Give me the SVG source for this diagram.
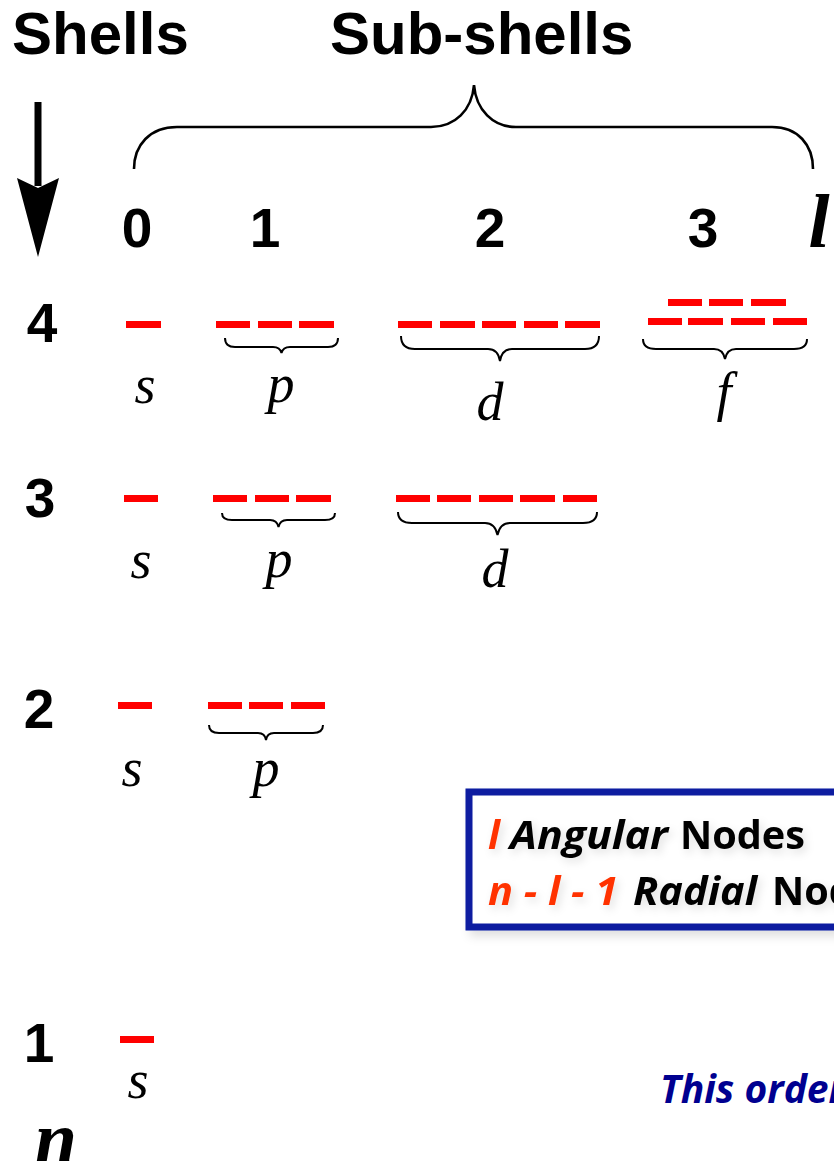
<svg xmlns="http://www.w3.org/2000/svg" width="834" height="1161" viewBox="0 0 834 1161">
<style>
.hdr{font-family:"Liberation Sans",Arial,sans-serif;font-weight:bold;font-size:60px;fill:#000}
.num{font-family:"Liberation Sans",Arial,sans-serif;font-weight:bold;font-size:55px;fill:#000;text-anchor:middle}
.var{font-family:"Liberation Serif","Times New Roman",serif;font-weight:bold;font-style:italic;font-size:76px;fill:#000;text-anchor:middle}
.lab{font-family:"Liberation Serif","Times New Roman",serif;font-style:italic;font-size:54px;fill:#000;text-anchor:middle}
.orb{fill:#FF0000}
.brace{fill:none;stroke:#000;stroke-width:2}
.big{fill:none;stroke:#000;stroke-width:2.6}
.bx{font-family:"Open Sans","Noto Sans",sans-serif;font-weight:bold;font-size:40px}
.red{fill:#FF3300;font-style:italic}
.it{font-style:italic;fill:#000}
.bk{fill:#000}
.note{font-family:"Open Sans","Noto Sans",sans-serif;font-weight:bold;font-style:italic;font-size:39px;fill:#000090}
</style>
<defs>
<filter id="sh" x="-10%" y="-20%" width="130%" height="150%">
<feGaussianBlur in="SourceAlpha" stdDeviation="5"/>
<feOffset dx="4" dy="6" result="b"/>
<feFlood flood-color="#000" flood-opacity="0.12"/>
<feComposite in2="b" operator="in"/>
<feMerge><feMergeNode/><feMergeNode in="SourceGraphic"/></feMerge>
</filter>
<filter id="tsh" x="-10%" y="-30%" width="120%" height="160%">
<feGaussianBlur in="SourceAlpha" stdDeviation="4"/>
<feOffset dx="3" dy="4" result="b"/>
<feFlood flood-color="#000" flood-opacity="0.12"/>
<feComposite in2="b" operator="in"/>
<feMerge><feMergeNode/><feMergeNode in="SourceGraphic"/></feMerge>
</filter>
</defs>

<g id="headers">
<text class="hdr" x="12" y="54">Shells</text>
<text class="hdr" x="330" y="54">Sub-shells</text>
</g>

<g id="shell-arrow">
<line x1="38" y1="102" x2="38" y2="186" stroke="#000" stroke-width="7"/>
<polygon points="17,178 38,188 59,178 38,257" fill="#000"/>
</g>

<g id="subshell-brace">
<path class="big" d="M134 169 C134 145 150 127 177 127 L431 127 C455 127 472 110 474 85 C476 110 493 127 516 127 L772 127 C798 127 813 145 813 169"/>
</g>

<g id="l-values">
<text class="num" x="137" y="247">0</text>
<text class="num" x="265" y="247">1</text>
<text class="num" x="490" y="247">2</text>
<text class="num" x="703" y="247">3</text>
<text class="var" x="819" y="247">l</text>
</g>

<g id="n-values">
<text class="num" x="42" y="342">4</text>
<text class="num" x="40" y="517">3</text>
<text class="num" x="39" y="728">2</text>
<text class="num" x="39" y="1062">1</text>
<text class="var" x="56" y="1164">n</text>
</g>

<g id="shell-4">
<rect class="orb" x="126" y="321" width="35" height="7"/>
<rect class="orb" x="216" y="321" width="34" height="7"/>
<rect class="orb" x="258" y="321" width="34" height="7"/>
<rect class="orb" x="299" y="321" width="35" height="7"/>
<rect class="orb" x="398" y="321" width="34" height="7"/>
<rect class="orb" x="440" y="321" width="35" height="7"/>
<rect class="orb" x="482" y="321" width="34" height="7"/>
<rect class="orb" x="524" y="321" width="34" height="7"/>
<rect class="orb" x="565" y="321" width="35" height="7"/>
<rect class="orb" x="668" y="299" width="34" height="7"/>
<rect class="orb" x="709" y="299" width="34" height="7"/>
<rect class="orb" x="751" y="299" width="35" height="7"/>
<rect class="orb" x="648" y="318" width="34" height="7"/>
<rect class="orb" x="688" y="318" width="35" height="7"/>
<rect class="orb" x="731" y="318" width="34" height="7"/>
<rect class="orb" x="773" y="318" width="34" height="7"/>
<path class="brace" d="M225 338 Q225 347 235 347 L273 347 Q280 347 281.5 353 Q283 347 290 347 L328 347 Q338 347 338 338"/>
<path class="brace" d="M401 336 Q401 349 415 349 L488 349 Q498 349 500 361 Q502 349 512 349 L585 349 Q599 349 599 336"/>
<path class="brace" d="M643 339 Q643 349 656 349 L714 349 Q723 349 725 359 Q727 349 736 349 L794 349 Q807 349 807 339"/>
<text class="lab" x="145" y="403">s</text>
<text class="lab" x="281" y="402">p</text>
<text class="lab" x="490" y="420">d</text>
<text class="lab" x="724" y="410">f</text>
</g>

<g id="shell-3">
<rect class="orb" x="124" y="495" width="34" height="7"/>
<rect class="orb" x="213" y="495" width="34" height="7"/>
<rect class="orb" x="255" y="495" width="34" height="7"/>
<rect class="orb" x="296" y="495" width="35" height="7"/>
<rect class="orb" x="396" y="495" width="34" height="7"/>
<rect class="orb" x="437" y="495" width="34" height="7"/>
<rect class="orb" x="479" y="495" width="34" height="7"/>
<rect class="orb" x="520" y="495" width="35" height="7"/>
<rect class="orb" x="563" y="495" width="34" height="7"/>
<path class="brace" d="M222 513 Q222 520 232 520 L270 520 Q277 520 278.5 527 Q280 520 287 520 L325 520 Q335 520 335 513"/>
<path class="brace" d="M398 512 Q398 523 412 523 L485 523 Q495 523 497.5 535 Q500 523 510 523 L583 523 Q597 523 597 512"/>
<text class="lab" x="141" y="578">s</text>
<text class="lab" x="279" y="577">p</text>
<text class="lab" x="495" y="587">d</text>
</g>

<g id="shell-2">
<rect class="orb" x="118" y="702" width="34" height="7"/>
<rect class="orb" x="208" y="702" width="34" height="7"/>
<rect class="orb" x="249" y="702" width="34" height="7"/>
<rect class="orb" x="291" y="702" width="34" height="7"/>
<path class="brace" d="M209 725 Q209 733 219 733 L258 733 Q265 733 266 740 Q267 733 274 733 L313 733 Q323 733 323 725"/>
<text class="lab" x="132" y="786">s</text>
<text class="lab" x="266" y="786">p</text>
</g>

<g id="shell-1">
<rect class="orb" x="120" y="1036" width="34" height="7"/>
<text class="lab" x="138" y="1098">s</text>
</g>

<g id="nodes-box">
<rect x="469" y="792" width="400" height="135" fill="#fff" stroke="#0A1BA0" stroke-width="7" filter="url(#sh)"/>
<g filter="url(#tsh)">
<text class="bx red" x="488" y="849">l</text>
<text class="bx it" x="510" y="849" textLength="158" lengthAdjust="spacingAndGlyphs">Angular</text>
<text class="bx bk" x="680" y="849" textLength="125" lengthAdjust="spacingAndGlyphs">Nodes</text>
<text class="bx red" x="488" y="905" textLength="130" lengthAdjust="spacingAndGlyphs">n - l - 1</text>
<text class="bx it" x="633" y="905" textLength="124" lengthAdjust="spacingAndGlyphs">Radial</text>
<text class="bx bk" x="772" y="905" textLength="125" lengthAdjust="spacingAndGlyphs">Nodes</text>
</g>
</g>

<g id="order-note">
<text class="note" x="660" y="1103">This order</text>
</g>
</svg>
